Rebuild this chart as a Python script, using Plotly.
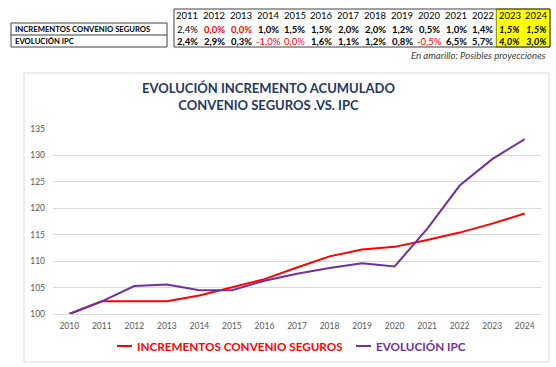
import plotly.graph_objects as go

# ---- data ----
years_tbl = ["2011", "2012", "2013", "2014", "2015", "2016", "2017", "2018", "2019",
             "2020", "2021", "2022", "2023", "2024"]
convenio_pct = ["2,4%", "0,0%", "0,0%", "1,0%", "1,5%", "1,5%", "2,0%", "2,0%", "1,2%",
                "0,5%", "1,0%", "1,4%", "1,5%", "1,5%"]
ipc_pct = ["2,4%", "2,9%", "0,3%", "-1,0%", "0,0%", "1,6%", "1,1%", "1,2%", "0,8%",
           "-0,5%", "6,5%", "5,7%", "4,0%", "3,0%"]
row_labels = ["INCREMENTOS CONVENIO SEGUROS", "EVOLUCIÓN IPC"]

chart_years = ["2010", "2011", "2012", "2013", "2014", "2015", "2016", "2017", "2018",
               "2019", "2020", "2021", "2022", "2023", "2024"]
convenio_acum = [100, 102.4, 102.4, 102.4, 103.5, 105.0, 106.6, 108.8, 110.9,
                 112.2, 112.7, 114.0, 115.4, 117.1, 119.0]
ipc_acum = [100, 102.4, 105.3, 105.6, 104.5, 104.5, 106.3, 107.6, 108.7,
            109.6, 109.0, 116.1, 124.3, 129.3, 133.1]
series_names = ["INCREMENTOS CONVENIO SEGUROS", "EVOLUCIÓN IPC"]
title_text = "EVOLUCIÓN INCREMENTO ACUMULADO<br>CONVENIO SEGUROS .VS. IPC"
note_text = "En amarillo: Posibles proyecciones"

RED = "#FF0000"
PURPLE = "#7030A0"
FONT = "Lato"

W, H = 556, 367
PL, PR, PT, PB = 53, 541, 129, 314  # plot area in pixels
YMIN, YMAX = 100, 135


def px(x):
    return (x - PL) / (PR - PL)


def py(y):
    return (PB - y) / (PB - PT)


fig = go.Figure()
fig.add_trace(go.Scatter(x=chart_years, y=convenio_acum, mode="lines",
                         name=series_names[0], line=dict(color=RED, width=2),
                         showlegend=False))
fig.add_trace(go.Scatter(x=chart_years, y=ipc_acum, mode="lines",
                         name=series_names[1], line=dict(color=PURPLE, width=2),
                         showlegend=False))

shapes = []
annotations = []

# chart border
shapes.append(dict(type="rect", xref="paper", yref="paper",
                   x0=px(24), x1=px(549), y0=py(73), y1=py(362),
                   line=dict(color="#D9D9D9", width=1), layer="below"))

# title
annotations.append(dict(text="<b>" + title_text + "</b>", xref="paper", yref="paper",
                        x=px(268), y=py(96), xanchor="center", yanchor="middle",
                        showarrow=False, align="center",
                        font=dict(family=FONT, size=13, color="#1F3864")))

# manual legend
leg_items = [(117, 132, 135, RED, series_names[0]), (356, 371, 374, PURPLE, series_names[1])]
for x0, x1, xt, col, nm in leg_items:
    shapes.append(dict(type="line", xref="paper", yref="paper",
                       x0=px(x0), x1=px(x1), y0=py(346), y1=py(346),
                       line=dict(color=col, width=2)))
    annotations.append(dict(text="<b>" + nm + "</b>", xref="paper", yref="paper",
                            x=px(xt), y=py(346), xanchor="left", yanchor="middle",
                            showarrow=False, font=dict(family=FONT, size=11.7, color=col)))

# ---- table ----
TX0, TX1 = 174, 550
TY0, TY1 = 9, 47
n = len(years_tbl)
cw = (TX1 - TX0) / n
ny = 2  # projected years (yellow)
shapes.append(dict(type="rect", xref="paper", yref="paper",
                   x0=px(TX0 + (n - ny) * cw), x1=px(TX1), y0=py(TY0), y1=py(TY1),
                   fillcolor="#FFFF00", line=dict(color="#7F7F00", width=1)))
shapes.append(dict(type="rect", xref="paper", yref="paper",
                   x0=px(TX0), x1=px(TX1), y0=py(TY0), y1=py(TY1),
                   line=dict(color="#404040", width=1)))
# label box
shapes.append(dict(type="rect", xref="paper", yref="paper",
                   x0=px(11), x1=px(167), y0=py(23), y1=py(47),
                   line=dict(color="#404040", width=1)))
shapes.append(dict(type="line", xref="paper", yref="paper",
                   x0=px(11), x1=px(167), y0=py(35), y1=py(35),
                   line=dict(color="#404040", width=1)))
for i, lab in enumerate(row_labels):
    annotations.append(dict(text="<b>" + lab + "</b>", xref="paper", yref="paper",
                            x=px(13), y=py(29 + 12 * i), xanchor="left", yanchor="middle",
                            showarrow=False, font=dict(family=FONT, size=7.7, color="#000000")))

row_y = [15, 29, 41]
for j, yr in enumerate(years_tbl):
    cx = TX0 + (j + 0.5) * cw
    annotations.append(dict(text=yr, xref="paper", yref="paper", x=px(cx), y=py(row_y[0]),
                            xanchor="center", yanchor="middle", showarrow=False,
                            font=dict(family=FONT, size=9.5, color="#000000")))
    for r, vals in enumerate([convenio_pct, ipc_pct]):
        v = vals[j]
        neg_or_zero = v.startswith("-") or v == "0,0%"
        col = RED if neg_or_zero else "#000000"
        txt = v
        bold = True
        if r == 0 and j == 0:
            bold = False
        if r == 1 and neg_or_zero:
            bold = False
        if bold:
            txt = "<b>" + txt + "</b>"
        if j >= n - ny:
            txt = "<i>" + txt + "</i>"
        annotations.append(dict(text=txt, xref="paper", yref="paper", x=px(cx),
                                y=py(row_y[r + 1]), xanchor="center", yanchor="middle",
                                showarrow=False,
                                font=dict(family=FONT, size=9.5, color=col)))

annotations.append(dict(text="<i>" + note_text + "</i>", xref="paper", yref="paper",
                        x=px(548), y=py(55), xanchor="right", yanchor="middle",
                        showarrow=False, font=dict(family=FONT, size=9.6, color="#404040")))

fig.update_layout(
    width=W, height=H,
    margin=dict(l=PL, r=W - PR, t=PT, b=H - PB),
    paper_bgcolor="white", plot_bgcolor="white",
    shapes=shapes, annotations=annotations,
    font=dict(family=FONT),
)
fig.update_xaxes(type="category", range=[-0.5, len(chart_years) - 0.5],
                 showgrid=False, showline=True, linecolor="#D9D9D9",
                 linewidth=1, ticks="", tickfont=dict(family=FONT, size=8.5, color="#595959"),
                 ticklabelstandoff=4)
fig.update_yaxes(range=[YMIN, YMAX], dtick=5, tick0=100, showgrid=True, gridcolor="#D9D9D9",
                 gridwidth=1, zeroline=False, showline=False, ticks="",
                 tickfont=dict(family=FONT, size=8.5, color="#595959"), ticklabelstandoff=7)

fig.write_html("out.html", config={"displayModeBar": False},
               post_script="document.body.style.margin='0';")
